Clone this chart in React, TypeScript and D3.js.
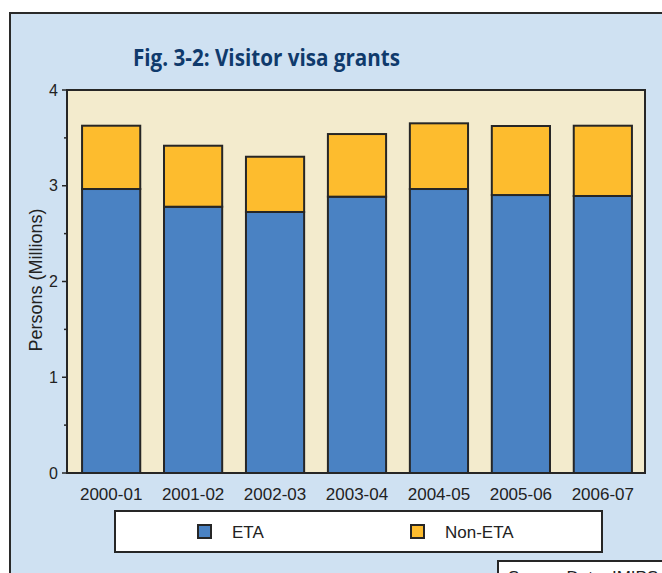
import React from "react";
import * as d3 from "d3";

const categories = ["2000-01", "2001-02", "2002-03", "2003-04", "2004-05", "2005-06", "2006-07"];
const etaValues = [2.966, 2.781, 2.726, 2.886, 2.966, 2.903, 2.893];
const nonEtaValues = [0.661, 0.637, 0.577, 0.654, 0.686, 0.721, 0.734];
const seriesNames = ["ETA", "Non-ETA"];
const yTicks = [0, 1, 2, 3, 4];
const yMinorTicks = [0.5, 1.5, 2.5, 3.5];

const W = 662;
const H = 573;
const plot = { left: 67, right: 645, top: 90, bottom: 473 };
const colors = { ETA: "#4a82c3", "Non-ETA": "#fdbc2e" };

export default function App() {
  const x = d3
    .scaleBand<string>()
    .domain(categories)
    .range([plot.left + 4, plot.right - 2])
    .paddingInner(0.29)
    .paddingOuter(0.135);
  const y = d3.scaleLinear().domain([0, 4]).range([plot.bottom, plot.top]);

  const rows = categories.map((c, i) => ({ cat: c, ETA: etaValues[i], "Non-ETA": nonEtaValues[i] }));
  const stacked = d3.stack<any>().keys(seriesNames)(rows);

  const font = "'Liberation Sans', Arial, sans-serif";

  return (
    <svg
      width={W}
      height={H}
      style={{ position: "absolute", left: 0, top: 0, display: "block" }}
    >
      <rect x={0} y={0} width={W} height={H} fill="#ffffff" />
      {/* outer panel */}
      <rect x={10} y={13} width={W + 20} height={H + 20} fill="#cfe1f2" stroke="#2a2a2a" strokeWidth={2} />
      {/* title */}
      <text
        x={266.5}
        y={66}
        textAnchor="middle"
        fill="#0f3a6c"
        fontFamily="'Open Sans', 'Noto Sans', sans-serif"
        fontWeight={700}
        fontSize={24}
        textLength={267}
        lengthAdjust="spacingAndGlyphs"
      >
        Fig. 3-2: Visitor visa grants
      </text>
      {/* plot bg */}
      <rect
        x={plot.left}
        y={plot.top}
        width={plot.right - plot.left}
        height={plot.bottom - plot.top}
        fill="#f3ebcd"
      />
      {/* bars */}
      {stacked.map((s) =>
        s.map((d, i) => (
          <rect
            key={s.key + i}
            x={x(categories[i])}
            y={y(d[1])}
            width={x.bandwidth()}
            height={y(d[0]) - y(d[1])}
            fill={(colors as any)[s.key]}
            stroke="#262626"
            strokeWidth={2}
          />
        ))
      )}
      {/* plot frame */}
      <path
        d={`M${plot.left},${plot.bottom} L${plot.left},${plot.top} L${plot.right},${plot.top} L${plot.right},${plot.bottom} Z`}
        fill="none"
        stroke="#262626"
        strokeWidth={2}
      />
      {/* y ticks */}
      {yTicks.map((t) => (
        <g key={"t" + t}>
          <line x1={plot.left - 5} x2={plot.left} y1={y(t)} y2={y(t)} stroke="#262626" strokeWidth={1.5} />
          <text
            x={plot.left - 9}
            y={y(t) + 5.5}
            textAnchor="end"
            fontFamily={font}
            fontSize={16}
            fill="#222"
          >
            {t}
          </text>
        </g>
      ))}
      {yMinorTicks.map((t) => (
        <line key={"m" + t} x1={plot.left - 3} x2={plot.left} y1={y(t)} y2={y(t)} stroke="#262626" strokeWidth={1.5} />
      ))}
      {/* y label */}
      <text
        transform={`translate(42,${280}) rotate(-90)`}
        textAnchor="middle"
        fontFamily={font}
        fontSize={18}
        fill="#222"
      >
        Persons (Millions)
      </text>
      {/* x labels */}
      {categories.map((c) => (
        <text
          key={c}
          x={(x(c) as number) + x.bandwidth() / 2}
          y={500}
          textAnchor="middle"
          fontFamily={font}
          fontSize={17}
          fill="#222"
        >
          {c}
        </text>
      ))}
      {/* legend */}
      <rect x={115} y={511} width={487} height={41} fill="#ffffff" stroke="#262626" strokeWidth={2} />
      {seriesNames.map((n, i) => {
        const sx = i === 0 ? 198 : 411;
        return (
          <g key={n}>
            <rect x={sx} y={525} width={13} height={13} fill={(colors as any)[n]} stroke="#262626" strokeWidth={2} />
            <text x={sx + 34} y={538} fontFamily={font} fontSize={17} fill="#222">
              {n}
            </text>
          </g>
        );
      })}
      {/* source box */}
      <rect x={498} y={561} width={200} height={40} fill="#ffffff" stroke="#262626" strokeWidth={2} />
      <text x={508} y={583} fontFamily={font} fontSize={17} fill="#222">
        Source Data: IMIPS
      </text>
    </svg>
  );
}
